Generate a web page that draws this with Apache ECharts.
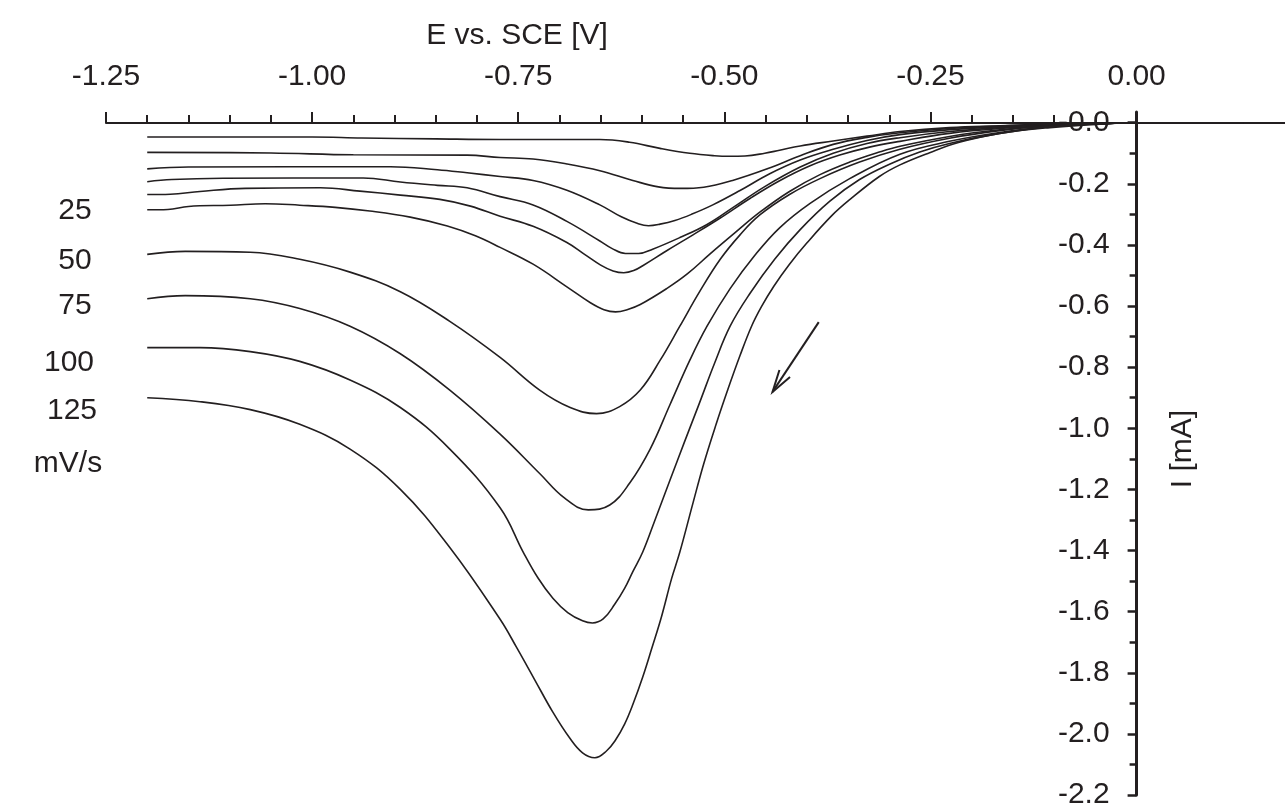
<!DOCTYPE html>
<html>
<head>
<meta charset="utf-8">
<script src="https://cdn.jsdelivr.net/npm/echarts@6.0.0/dist/echarts.min.js"></script>
<style>
  html, body { margin: 0; padding: 0; background: #ffffff; }
  #chart { width: 1285px; height: 810px; }
</style>
</head>
<body>
<div id="chart"></div>
<script>
// Cathodic linear sweeps: potential E (V vs. SCE) and current I (mA)
const sweep1 = [[-1.200,-0.047],[-1.000,-0.047],[-0.940,-0.050],[-0.850,-0.053],[-0.772,-0.055],[-0.651,-0.055],[-0.615,-0.064],[-0.578,-0.084],[-0.542,-0.100],[-0.512,-0.108],[-0.494,-0.110],[-0.475,-0.109],[-0.451,-0.100],[-0.433,-0.090],[-0.408,-0.076],[-0.368,-0.060],[-0.327,-0.044],[-0.287,-0.029],[-0.227,-0.016],[-0.166,-0.010],[-0.105,-0.005],[-0.045,-0.002],[0,0],[0.13,0]];
const sweep2 = [[-1.200,-0.097],[-1.050,-0.099],[-0.950,-0.105],[-0.812,-0.106],[-0.772,-0.114],[-0.732,-0.119],[-0.691,-0.135],[-0.651,-0.157],[-0.611,-0.189],[-0.580,-0.210],[-0.553,-0.215],[-0.525,-0.211],[-0.490,-0.189],[-0.448,-0.151],[-0.408,-0.108],[-0.368,-0.071],[-0.327,-0.048],[-0.287,-0.033],[-0.227,-0.019],[-0.166,-0.011],[-0.105,-0.006],[-0.045,-0.003],[0,0],[0.13,0]];
const sweep3 = [[-1.200,-0.151],[-1.150,-0.145],[-0.905,-0.144],[-0.848,-0.154],[-0.812,-0.164],[-0.772,-0.176],[-0.732,-0.189],[-0.691,-0.221],[-0.651,-0.269],[-0.625,-0.308],[-0.605,-0.330],[-0.592,-0.337],[-0.578,-0.332],[-0.560,-0.320],[-0.540,-0.300],[-0.514,-0.269],[-0.481,-0.222],[-0.445,-0.167],[-0.408,-0.122],[-0.368,-0.087],[-0.327,-0.058],[-0.287,-0.039],[-0.227,-0.023],[-0.166,-0.013],[-0.105,-0.006],[-0.045,-0.003],[0,0],[0.13,0]];
const sweep4 = [[-1.200,-0.193],[-1.170,-0.186],[-1.108,-0.182],[-0.938,-0.181],[-0.893,-0.194],[-0.848,-0.205],[-0.812,-0.213],[-0.772,-0.242],[-0.732,-0.269],[-0.691,-0.323],[-0.651,-0.387],[-0.636,-0.412],[-0.620,-0.428],[-0.604,-0.428],[-0.587,-0.414],[-0.554,-0.376],[-0.521,-0.333],[-0.487,-0.273],[-0.451,-0.209],[-0.408,-0.145],[-0.368,-0.100],[-0.327,-0.068],[-0.287,-0.049],[-0.227,-0.029],[-0.166,-0.016],[-0.105,-0.008],[-0.045,-0.003],[0,0],[0.13,0]];
const sweep5 = [[-1.200,-0.235],[-1.172,-0.234],[-1.136,-0.225],[-1.081,-0.215],[-0.990,-0.213],[-0.942,-0.224],[-0.893,-0.237],[-0.845,-0.251],[-0.808,-0.273],[-0.772,-0.306],[-0.732,-0.339],[-0.691,-0.392],[-0.670,-0.430],[-0.650,-0.466],[-0.635,-0.485],[-0.622,-0.491],[-0.610,-0.484],[-0.599,-0.468],[-0.570,-0.419],[-0.538,-0.367],[-0.505,-0.312],[-0.469,-0.248],[-0.433,-0.190],[-0.396,-0.141],[-0.360,-0.106],[-0.324,-0.080],[-0.287,-0.061],[-0.227,-0.035],[-0.166,-0.019],[-0.105,-0.010],[-0.045,-0.003],[0,0],[0.13,0]];
const rate25 = [[-1.200,-0.285],[-1.175,-0.284],[-1.150,-0.274],[-1.099,-0.270],[-1.057,-0.265],[-1.015,-0.270],[-0.972,-0.277],[-0.930,-0.289],[-0.881,-0.309],[-0.836,-0.338],[-0.802,-0.370],[-0.772,-0.408],[-0.732,-0.463],[-0.691,-0.537],[-0.662,-0.590],[-0.646,-0.612],[-0.632,-0.619],[-0.618,-0.612],[-0.602,-0.595],[-0.570,-0.543],[-0.545,-0.495],[-0.518,-0.431],[-0.487,-0.360],[-0.457,-0.293],[-0.421,-0.225],[-0.384,-0.170],[-0.348,-0.129],[-0.312,-0.096],[-0.287,-0.077],[-0.227,-0.045],[-0.166,-0.023],[-0.105,-0.010],[-0.045,-0.003],[0,0],[0.13,0]];
const rate50 = [[-1.200,-0.431],[-1.154,-0.421],[-1.075,-0.424],[-1.015,-0.447],[-0.954,-0.489],[-0.893,-0.553],[-0.833,-0.650],[-0.772,-0.768],[-0.724,-0.875],[-0.687,-0.932],[-0.655,-0.952],[-0.627,-0.929],[-0.602,-0.875],[-0.578,-0.778],[-0.554,-0.666],[-0.530,-0.553],[-0.505,-0.447],[-0.481,-0.367],[-0.457,-0.302],[-0.421,-0.235],[-0.384,-0.183],[-0.336,-0.129],[-0.287,-0.087],[-0.227,-0.051],[-0.166,-0.026],[-0.105,-0.010],[-0.045,-0.003],[0,0],[0.13,0]];
const rate75 = [[-1.200,-0.576],[-1.154,-0.566],[-1.075,-0.576],[-1.015,-0.608],[-0.954,-0.666],[-0.893,-0.756],[-0.833,-0.875],[-0.772,-1.019],[-0.724,-1.148],[-0.694,-1.228],[-0.665,-1.267],[-0.639,-1.251],[-0.615,-1.180],[-0.590,-1.068],[-0.566,-0.923],[-0.542,-0.778],[-0.521,-0.666],[-0.493,-0.543],[-0.463,-0.434],[-0.433,-0.344],[-0.396,-0.264],[-0.348,-0.183],[-0.287,-0.103],[-0.227,-0.061],[-0.166,-0.032],[-0.105,-0.013],[-0.045,-0.003],[0,0],[0.13,0]];
const rate100 = [[-1.200,-0.736],[-1.136,-0.736],[-1.075,-0.749],[-1.015,-0.781],[-0.954,-0.842],[-0.893,-0.932],[-0.833,-1.068],[-0.772,-1.260],[-0.744,-1.405],[-0.726,-1.490],[-0.708,-1.556],[-0.690,-1.603],[-0.672,-1.630],[-0.660,-1.637],[-0.647,-1.624],[-0.633,-1.576],[-0.621,-1.524],[-0.611,-1.469],[-0.599,-1.405],[-0.584,-1.299],[-0.566,-1.170],[-0.548,-1.042],[-0.530,-0.916],[-0.512,-0.788],[-0.493,-0.666],[-0.469,-0.559],[-0.439,-0.447],[-0.408,-0.350],[-0.372,-0.257],[-0.336,-0.186],[-0.299,-0.135],[-0.263,-0.096],[-0.227,-0.068],[-0.166,-0.035],[-0.105,-0.016],[-0.045,-0.005],[0,0],[0.13,0]];
const rate125 = [[-1.200,-0.900],[-1.136,-0.913],[-1.075,-0.939],[-1.015,-0.987],[-0.954,-1.068],[-0.893,-1.200],[-0.833,-1.390],[-0.772,-1.625],[-0.752,-1.717],[-0.730,-1.823],[-0.708,-1.929],[-0.688,-2.012],[-0.672,-2.062],[-0.657,-2.078],[-0.643,-2.056],[-0.632,-2.020],[-0.621,-1.968],[-0.611,-1.904],[-0.599,-1.814],[-0.588,-1.720],[-0.576,-1.614],[-0.564,-1.492],[-0.554,-1.405],[-0.538,-1.244],[-0.525,-1.116],[-0.510,-0.987],[-0.496,-0.875],[-0.481,-0.762],[-0.467,-0.666],[-0.455,-0.602],[-0.440,-0.535],[-0.421,-0.463],[-0.400,-0.394],[-0.370,-0.305],[-0.348,-0.252],[-0.312,-0.176],[-0.287,-0.138],[-0.251,-0.098],[-0.215,-0.064],[-0.166,-0.035],[-0.105,-0.013],[-0.045,-0.003],[0,0],[0.13,0]];

// Axis ranges and ticks
const xMin = -1.25, xMax = 0.18;
const yMin = -2.2, yMax = 0.035;
const xMajorTicks = [-1.25, -1.00, -0.75, -0.50, -0.25, 0.00];
const xMinorTicks = [-1.20, -1.15, -1.10, -1.05, -0.95, -0.90, -0.85, -0.80, -0.70, -0.65, -0.60, -0.55, -0.45, -0.40, -0.35, -0.30, -0.20, -0.15, -0.10, -0.05];
const yMajorTicks = [0, -0.2, -0.4, -0.6, -0.8, -1.0, -1.2, -1.4, -1.6, -1.8, -2.0, -2.2];
const yMinorTicks = [-0.1, -0.3, -0.5, -0.7, -0.9, -1.1, -1.3, -1.5, -1.7, -1.9, -2.1];

// Scan-rate labels beside the curves
const rateLabels = ['25', '50', '75', '100', '125', 'mV/s'];

// Sweep-direction arrow: tail (E, I) then head (E, I)
const sweepArrow = [[-0.3855, -0.6527, -0.4416, -0.881]];

const sweeps = [
  { name: 'sweep 1', data: sweep1 },
  { name: 'sweep 2', data: sweep2 },
  { name: 'sweep 3', data: sweep3 },
  { name: 'sweep 4', data: sweep4 },
  { name: 'sweep 5', data: sweep5 },
  { name: '25 mV/s', data: rate25 },
  { name: '50 mV/s', data: rate50 },
  { name: '75 mV/s', data: rate75 },
  { name: '100 mV/s', data: rate100 },
  { name: '125 mV/s', data: rate125 }
];

const INK = '#231f20';
const FONT = '"Liberation Sans", Arial, Helvetica, sans-serif';

// Plot frame in pixels
const GRID = { left: 106, right: 0, top: 112, bottom: 3 };
const W = 1285, H = 810;
const plotW = W - GRID.left - GRID.right;
const plotH = H - GRID.top - GRID.bottom;
// The axes cross at E = 0 and I = 0: shift them there from the frame edges
const yAxisShift = -plotW * (0 - xMin) / (xMax - xMin);
const xAxisShift = -plotH * (yMax - 0) / (yMax - yMin);

const chart = echarts.init(document.getElementById('chart'), null, { renderer: 'canvas' });

const ratePlaces = [[75, 211], [75, 261], [75, 306], [69, 363], [72, 411], [68, 464]];

const option = {
  backgroundColor: '#ffffff',
  animation: false,
  grid: Object.assign({ containLabel: false }, GRID),
  xAxis: [
    {
      type: 'value', position: 'top', min: xMin, max: xMax, offset: xAxisShift,
      axisLine: { show: true, onZero: false, lineStyle: { color: INK, width: 2 } },
      axisTick: { show: true, customValues: xMajorTicks, length: 11, lineStyle: { color: INK, width: 2 } },
      axisLabel: {
        show: true, customValues: xMajorTicks, margin: 31,
        fontSize: 30, fontFamily: FONT, color: INK,
        formatter: v => v.toFixed(2)
      },
      splitLine: { show: false }
    },
    {
      type: 'value', position: 'top', min: xMin, max: xMax, offset: xAxisShift,
      axisLine: { show: false, onZero: false },
      axisTick: { show: true, customValues: xMinorTicks, length: 8, lineStyle: { color: INK, width: 2 } },
      axisLabel: { show: false },
      splitLine: { show: false }
    }
  ],
  yAxis: [
    {
      type: 'value', position: 'left', min: yMin, max: yMax, offset: yAxisShift,
      axisLine: { show: true, onZero: false, lineStyle: { color: INK, width: 3 } },
      axisTick: { show: true, customValues: yMajorTicks, length: 9, lineStyle: { color: INK, width: 2.5 } },
      axisLabel: {
        show: true, customValues: yMajorTicks, margin: 27,
        fontSize: 30, fontFamily: FONT, color: INK,
        formatter: v => (v === 0 ? '-0.0' : v.toFixed(1))
      },
      splitLine: { show: false }
    },
    {
      type: 'value', position: 'left', min: yMin, max: yMax, offset: yAxisShift,
      axisLine: { show: false, onZero: false },
      axisTick: { show: true, customValues: yMinorTicks, length: 7, lineStyle: { color: INK, width: 2.5 } },
      axisLabel: { show: false },
      splitLine: { show: false }
    }
  ],
  series: sweeps.map(s => ({
    name: s.name,
    type: 'line',
    data: s.data,
    showSymbol: false,
    smooth: 0.4,
    lineStyle: { color: INK, width: 1.6 },
    z: 3
  })).concat([{
    type: 'custom',
    name: 'sweep direction',
    data: sweepArrow,
    encode: { x: [0, 2], y: [1, 3] },
    renderItem: (params, api) => {
      const tail = api.coord([api.value(0), api.value(1)]);
      const tip = api.coord([api.value(2), api.value(3)]);
      const ang = Math.atan2(tail[1] - tip[1], tail[0] - tip[0]);
      const len = 23, spread = 16 * Math.PI / 180;
      const a1 = [tip[0] + len * Math.cos(ang - spread), tip[1] + len * Math.sin(ang - spread)];
      const a2 = [tip[0] + len * Math.cos(ang + spread), tip[1] + len * Math.sin(ang + spread)];
      return {
        type: 'group',
        children: [
          { type: 'line', shape: { x1: tail[0], y1: tail[1], x2: tip[0], y2: tip[1] },
            style: { stroke: INK, lineWidth: 2 } },
          { type: 'polyline', shape: { points: [a1, tip, a2] },
            style: { stroke: INK, lineWidth: 2, fill: null } }
        ]
      };
    },
    z: 4
  }]),
  graphic: [
    { type: 'text', x: 517, y: 36,
      style: { text: 'E vs. SCE [V]', fontSize: 30, fontFamily: FONT, fill: INK, textAlign: 'center', textVerticalAlign: 'middle' } },
    { type: 'text', x: 1183, y: 449, rotation: Math.PI / 2,
      style: { text: 'I [mA]', fontSize: 30, fontFamily: FONT, fill: INK, textAlign: 'center', textVerticalAlign: 'middle' } }
  ].concat(rateLabels.map((t, i) => ({
    type: 'text', x: ratePlaces[i][0], y: ratePlaces[i][1],
    style: { text: t, fontSize: 30, fontFamily: FONT, fill: INK, textAlign: 'center', textVerticalAlign: 'middle' }
  })))
};

chart.setOption(option);
</script>
</body>
</html>
